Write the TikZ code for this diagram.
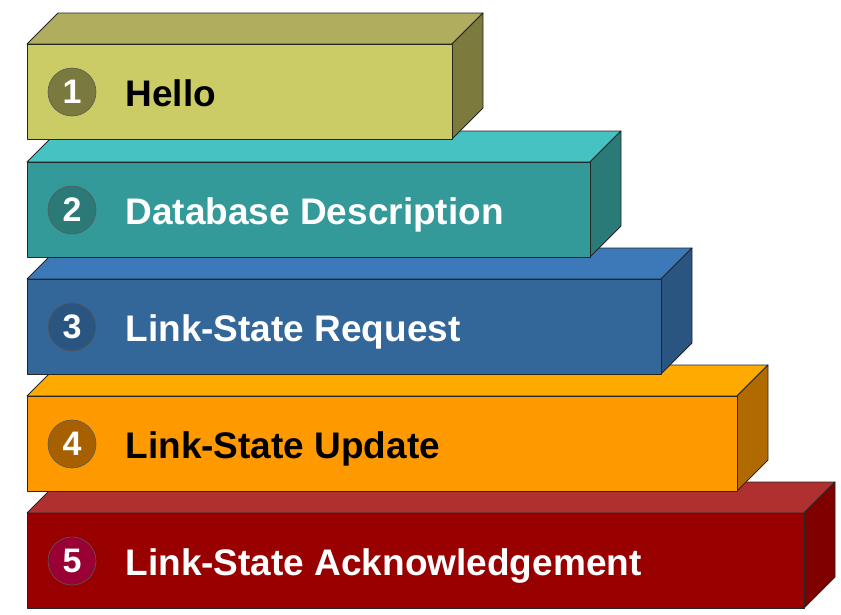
\documentclass[tikz,border=0pt]{standalone}
\usepackage{fontspec}
\setmainfont{Liberation Sans}
\usetikzlibrary{positioning}
\definecolor{hello-front}{RGB}{204,204,102}
\definecolor{hello-top}{RGB}{176,173,94}
\definecolor{hello-side}{RGB}{125,122,62}
\definecolor{hello-badge}{RGB}{122,122,62}
\definecolor{dbd-front}{RGB}{51,153,153}
\definecolor{dbd-top}{RGB}{71,194,194}
\definecolor{dbd-side}{RGB}{42,122,120}
\definecolor{dbd-badge}{RGB}{43,122,120}
\definecolor{lsr-front}{RGB}{51,102,153}
\definecolor{lsr-top}{RGB}{61,121,184}
\definecolor{lsr-side}{RGB}{42,85,128}
\definecolor{lsr-badge}{RGB}{42,85,128}
\definecolor{lsu-front}{RGB}{255,153,0}
\definecolor{lsu-top}{RGB}{255,170,0}
\definecolor{lsu-side}{RGB}{176,106,0}
\definecolor{lsu-badge}{RGB}{166,96,0}
\definecolor{ack-front}{RGB}{153,0,0}
\definecolor{ack-top}{RGB}{176,48,48}
\definecolor{ack-side}{RGB}{128,0,0}
\definecolor{ack-badge}{RGB}{153,0,51}

\begin{document}
\begin{tikzpicture}[x=1pt, y=-1pt,
  face/.style={draw=black!85, line width=0.8pt, line join=round},
  badge/.style={circle, draw=black!65, line width=0.6pt, minimum size=48pt,
    inner sep=0pt, text=white, font=\fontsize{34}{34}\selectfont\bfseries},
  steptext/.style={inner sep=0pt, text height=28pt, text depth=0pt,
    font=\fontsize{37}{37}\selectfont\bfseries}]
  \useasboundingbox (0,0) rectangle (841,614);

  % packet boxes, drawn from the bottom up so each one hides the top face below it
  \foreach \i/\ytop/\xr/\col/\txt/\lbl in {
      5/513/804/ack/white/{Link-State Acknowledgement},
      4/396/737/lsu/black/{Link-State Update},
      3/279/661/lsr/white/{Link-State Request},
      2/162/590/dbd/white/{Database Description},
      1/44/452/hello/black/{Hello}}{
    % top and side faces
    \draw[face, fill=\col-top] (27,\ytop) -- (58,\ytop-31) -- (\xr+31,\ytop-31) -- (\xr,\ytop) -- cycle;
    \draw[face, fill=\col-side] (\xr,\ytop) -- (\xr+31,\ytop-31) -- (\xr+31,\ytop+64) -- (\xr,\ytop+95) -- cycle;
    % front face
    \draw[face, fill=\col-front] (27,\ytop) rectangle (\xr,\ytop+95);
    % number and name
    \node[badge, fill=\col-badge] (num\i) at (72,\ytop+48) {\i};
    \node[steptext, text=\txt, right=29pt of num\i] (lbl\i) {\lbl};
  }
\end{tikzpicture}
\end{document}
